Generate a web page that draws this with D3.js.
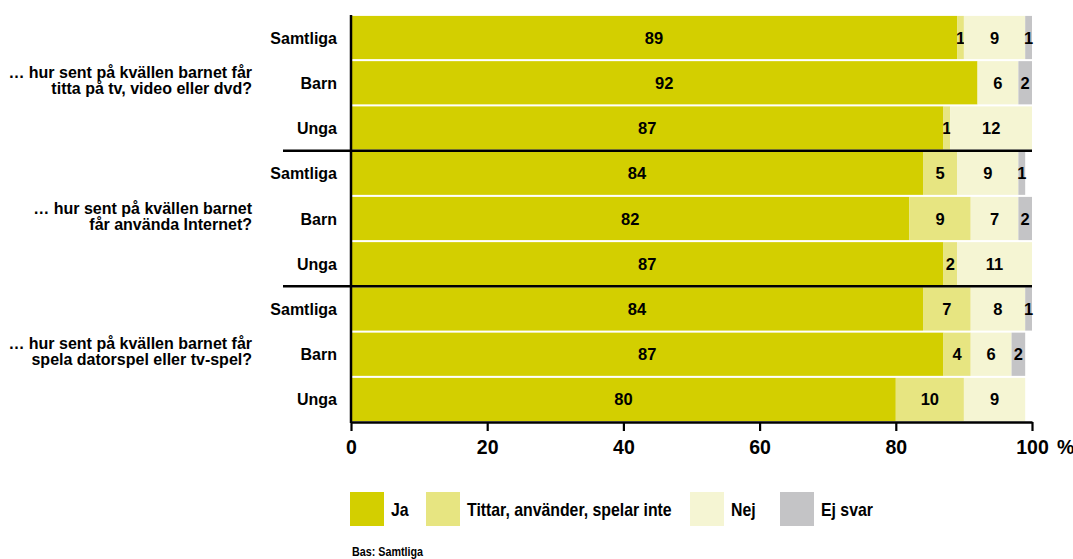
<!DOCTYPE html>
<html><head><meta charset="utf-8">
<script src="https://cdn.jsdelivr.net/npm/d3@7"></script>
<style>
body{margin:0;background:#fff;}
text{font-family:'Liberation Sans',Arial,sans-serif;font-weight:bold;fill:#000;}
</style></head>
<body><svg id="c" width="1073" height="559"></svg>
<script>
const questions = [
  ["… hur sent på kvällen barnet får","titta på tv, video eller dvd?"],
  ["… hur sent på kvällen barnet","får använda Internet?"],
  ["… hur sent på kvällen barnet får","spela datorspel eller tv-spel?"]
];
const groups = ["Samtliga","Barn","Unga"];
const seriesNames = ["Ja","Tittar, använder, spelar inte","Nej","Ej svar"];
const colors = ["#d3cf00","#e7e581","#f5f5d3","#c4c4c6"];
const ja     = [89,92,87, 84,82,87, 84,87,80];
const tittar = [1,0,1,   5,9,2,    7,4,10];
const nej    = [9,6,12,  9,7,11,   8,6,9];
const ejsvar = [1,2,0,   1,2,0,    1,2,0];
const ticks = [0,20,40,60,80,100];

const svg = d3.select("#c");
const x = d3.scaleLinear().domain([0,100]).range([351,1032]);
const rowIds = d3.range(9);
const y = d3.scaleBand().domain(rowIds).range([15,422]).paddingInner(0.045).paddingOuter(0.02);
const series = [ja,tittar,nej,ejsvar];

function condText(px,py,str,size,sx,anchor){
  return svg.append("text").attr("transform",`translate(${px},${py}) scale(${sx},1)`)
    .attr("text-anchor",anchor||"start").style("font-size",size+"px").text(str);
}

rowIds.forEach(i=>{
  let cum=0;
  series.forEach((s,k)=>{
    const v=s[i];
    if(v>0){
      svg.append("rect").attr("x",x(cum)).attr("y",y(i)).attr("width",x(cum+v)-x(cum)).attr("height",y.bandwidth()).attr("fill",colors[k]);
      svg.append("text").attr("x",(x(cum)+x(cum+v))/2).attr("y",y(i)+y.bandwidth()/2+6)
        .attr("text-anchor","middle").style("font-size","16.5px").text(v);
    }
    cum+=v;
  });
  svg.append("text").attr("x",337).attr("y",y(i)+y.bandwidth()/2+6).attr("text-anchor","end")
    .style("font-size","16px").text(groups[i%3]);
});

// group separators
[3,6].forEach(i=>{
  const yy=(y(i-1)+y.bandwidth()+y(i))/2;
  svg.append("line").attr("x1",283).attr("x2",x(100)).attr("y1",yy).attr("y2",yy).attr("stroke","#000").attr("stroke-width",2.5);
});

// questions
questions.forEach((q,g)=>{
  const cy=(y(g*3)+y(g*3+2)+y.bandwidth())/2;
  q.forEach((line,j)=>{
    svg.append("text").attr("x",252).attr("y",cy-5+j*16).attr("text-anchor","end")
      .style("font-size","16px").text(line);
  });
});

// axes
svg.append("line").attr("x1",x(0)).attr("x2",x(0)).attr("y1",15).attr("y2",423).attr("stroke","#000").attr("stroke-width",2.5);
const ax = svg.append("g").attr("transform","translate(0,422)")
  .call(d3.axisBottom(x).tickValues(ticks).tickSize(9).tickSizeOuter(0).tickPadding(9).tickFormat(d=>d));
ax.select(".domain").attr("stroke","#000").attr("stroke-width",2.5);
ax.selectAll(".tick line").attr("stroke","#000").attr("stroke-width",2.2);
ax.selectAll(".tick text").attr("dy",null).attr("y",32).attr("fill","#000")
  .style("font-size","19.5px").style("font-family","'Liberation Sans',Arial,sans-serif").style("font-weight","bold");
svg.append("text").attr("x",1057).attr("y",454).style("font-size","19.5px").text("%");

// legend
const legX=[350,426,690,780];
seriesNames.forEach((n,k)=>{
  svg.append("rect").attr("x",legX[k]).attr("y",492).attr("width",34).attr("height",34).attr("fill",colors[k]);
  condText(legX[k]+41,516,n,18,0.88);
});
condText(352,556,"Bas: Samtliga",12.5,0.86);
</script></body></html>
